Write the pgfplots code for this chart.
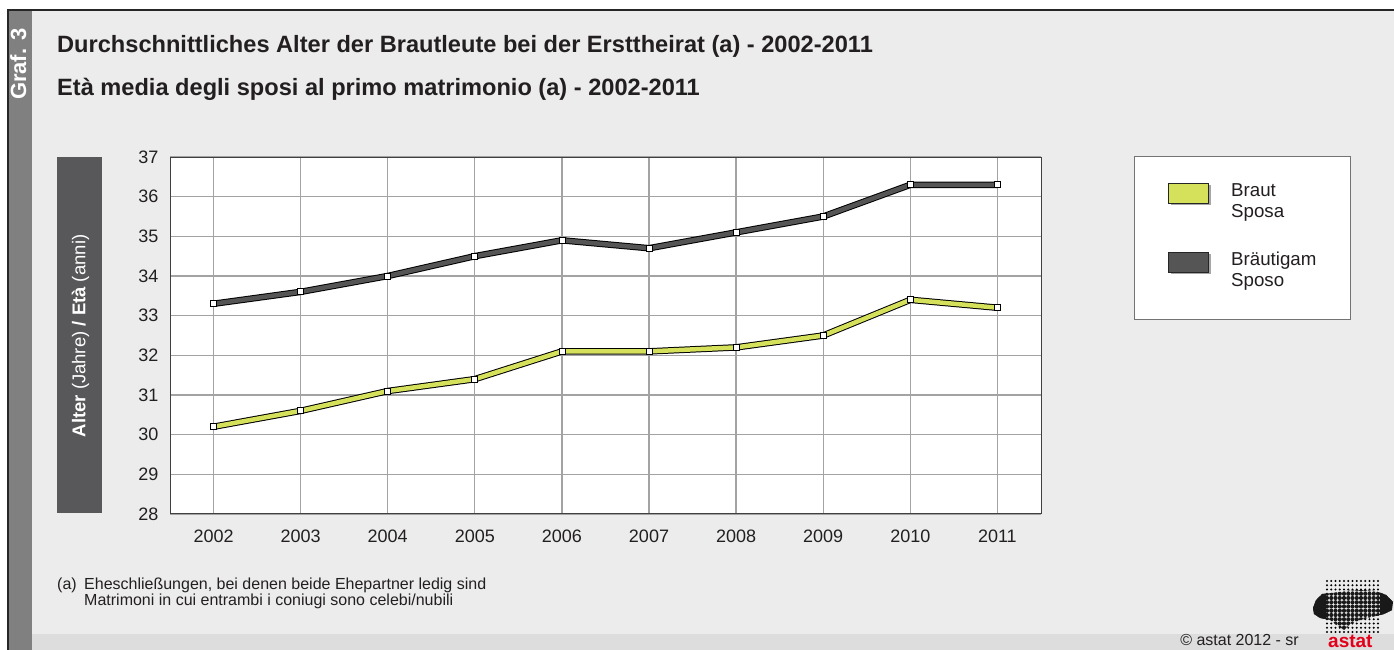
\documentclass[border=0pt]{standalone}
\usepackage{fontspec}
\setmainfont{Liberation Sans}
\usepackage{pgfplots}
\usepackage{pgfplotstable}
\pgfplotsset{compat=1.18}
\definecolor{bg}{HTML}{EBECEB}
\definecolor{strip}{HTML}{808080}
\definecolor{band}{HTML}{DCDDDC}
\definecolor{bride}{HTML}{D5E05B}
\definecolor{groom}{HTML}{555556}
\definecolor{ybox}{HTML}{58585A}
\definecolor{gridc}{HTML}{A3A3A3}
\definecolor{txt}{HTML}{231F20}
\definecolor{astatred}{HTML}{E2001A}
\pgfplotstableread{
year bride groom
2002 30.2 33.3
2003 30.6 33.6
2004 31.1 34.0
2005 31.4 34.5
2006 32.1 34.9
2007 32.1 34.7
2008 32.2 35.1
2009 32.5 35.5
2010 33.4 36.3
2011 33.2 36.3
}\data
\begin{document}
\begin{tikzpicture}[x=1pt,y=1pt]
\useasboundingbox (0,0) rectangle (1394,650);
\fill[white] (0,0) rectangle (1394,650);
\fill[bg] (7,0) rectangle (1394,640);
\fill[band] (32,0) rectangle (1394,16);
\fill[strip] (7,0) rectangle (32,640);
\draw[black!85, line width=1.5pt] (7.75,0) -- (7.75,640) -- (1394,640);
\node[rotate=90, anchor=base east, inner sep=0, text=white, font=\bfseries\fontsize{22}{24}\selectfont] at (26,622) {Graf. 3};
% titles
\node[anchor=base west, inner sep=0, text=txt, font=\bfseries\fontsize{23.6}{26}\selectfont] at (57,597) {Durchschnittliches Alter der Brautleute bei der Ersttheirat (a) - 2002-2011};
\node[anchor=base west, inner sep=0, text=txt, font=\bfseries\fontsize{23.6}{26}\selectfont] at (57,554) {Età media degli sposi al primo matrimonio (a) - 2002-2011};
% y label box
\fill[ybox] (57,137) rectangle (102,493);
\node[rotate=90, inner sep=0, text=white, font=\fontsize{18.5}{20}\selectfont] at (80.5,314) {\textbf{Alter} (Jahre) \textbf{/ Età} (anni)};
\begin{axis}[
  at={(170pt,136pt)}, anchor=south west, scale only axis,
  width=871pt, height=357pt,
  xmin=2001.5, xmax=2011.5, ymin=28, ymax=37,
  xtick={2002,...,2011}, ytick={28,...,37},
  grid=major,
  major grid style={gridc, line width=1.2pt},
  axis line style={black!75, line width=1pt},
  major tick length=0pt,
  axis background/.style={fill=white},
  tick label style={font=\fontsize{18}{20}\selectfont, text=txt},
  /pgf/number format/assume math mode=true,
  xticklabel style={/pgf/number format/1000 sep={}, yshift=-12pt},
  yticklabel style={xshift=-8pt},
  clip=false,
]
\addplot[black, line width=6.5pt, no marks] table[x=year,y=groom]{\data};
\addplot[groom, line width=4.5pt, mark=square*, mark size=3pt, mark options={fill=white, draw=black, line width=0.8pt, solid}] table[x=year,y=groom]{\data};
\addplot[black, line width=6.5pt, no marks] table[x=year,y=bride]{\data};
\addplot[bride, line width=4.5pt, mark=square*, mark size=3pt, mark options={fill=white, draw=black, line width=0.8pt, solid}] table[x=year,y=bride]{\data};
\end{axis}
% legend
\draw[black!55, line width=1pt, fill=white] (1134,330) rectangle (1350,493);
\fill[black!35] (1170.5,444.5) rectangle (1210.5,464.5);
\draw[black!85, fill=bride, line width=0.8pt] (1168,447) rectangle (1208,467);
\fill[black!35] (1170.5,375.5) rectangle (1210.5,395.5);
\draw[black!85, fill=groom, line width=0.8pt] (1168,378) rectangle (1208,398);
\node[anchor=base west, inner sep=0, text=txt, font=\fontsize{18.7}{20}\selectfont] at (1231,453) {Braut};
\node[anchor=base west, inner sep=0, text=txt, font=\fontsize{18.7}{20}\selectfont] at (1231,432) {Sposa};
\node[anchor=base west, inner sep=0, text=txt, font=\fontsize{18.7}{20}\selectfont] at (1231,384) {Bräutigam};
\node[anchor=base west, inner sep=0, text=txt, font=\fontsize{18.7}{20}\selectfont] at (1231,363) {Sposo};
% footnote
\node[anchor=base west, inner sep=0, text=txt, font=\fontsize{16}{18}\selectfont] at (57,60) {(a)};
\node[anchor=base west, inner sep=0, text=txt, font=\fontsize{16}{18}\selectfont] at (84,60) {Eheschließungen, bei denen beide Ehepartner ledig sind};
\node[anchor=base west, inner sep=0, text=txt, font=\fontsize{16}{18}\selectfont] at (84,44.5) {Matrimoni in cui entrambi i coniugi sono celebi/nubili};
% copyright
\node[anchor=base east, inner sep=0, text=txt, font=\fontsize{16}{18}\selectfont] at (1299,4) {© astat 2012 - sr};
% logo
\foreach \i in {0,...,12} {\foreach \j in {0,...,12} {\fill[black] (1327+\i*4.25,69-\j*4.25) circle (1.2);}}
\begin{scope}
\clip (1313,42) -- (1316,50) -- (1322,56) -- (1332,57) -- (1345,59) -- (1362,60) -- (1376,59) -- (1386,55) -- (1393,48) -- (1392,40) -- (1384,36) -- (1372,33) -- (1360,30) -- (1350,26) -- (1344,20) -- (1338,24) -- (1330,30) -- (1320,32) -- (1314,36) -- cycle;
\foreach \i in {-4,...,16} {\foreach \j in {0,...,12} {\fill[black!90] (1327+\i*4.25,69-\j*4.25) circle (2.1);}}
\fill[black!90] (1310,30) rectangle (1326,60);
\fill[black!90] (1380,30) rectangle (1394,60);
\end{scope}
\node[anchor=base west, inner sep=0, text=astatred, font=\bfseries\fontsize{19}{21}\selectfont] at (1328,2) {astat};
\end{tikzpicture}
\end{document}
